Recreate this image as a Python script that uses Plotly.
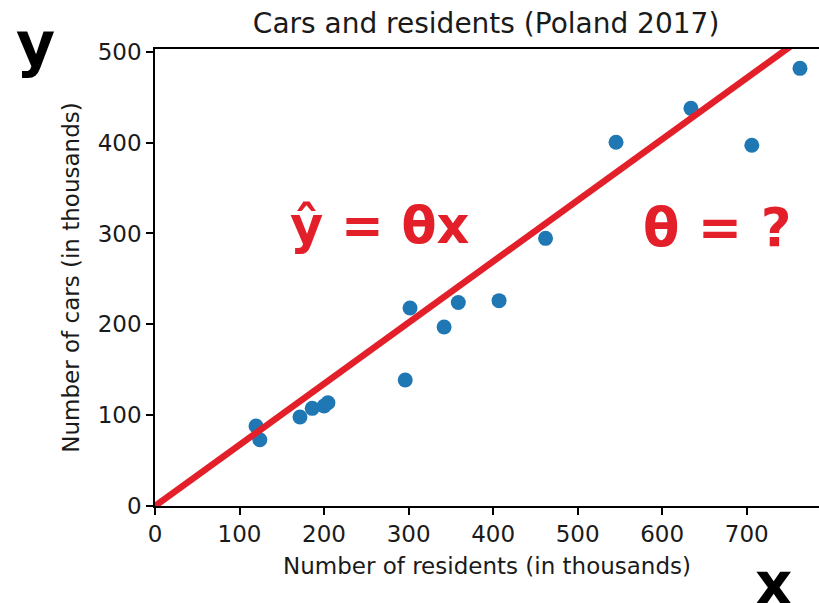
import plotly.graph_objects as go

# Residents and registered cars per city, thousands (Poland 2017)
residents = [119.5, 124, 171.5, 186, 200, 204.6, 296, 301.7, 342, 358.8, 407, 462, 545.4, 634, 706, 763]
cars = [88, 73, 98, 107.5, 110, 113.7, 138.7, 218, 197, 224, 226, 294.6, 400.3, 437.7, 397, 481.7]

theta = 0.673
line_x = [0, 800]
line_y = [theta * v for v in line_x]

x_ticks = [0, 100, 200, 300, 400, 500, 600, 700]
y_ticks = [0, 100, 200, 300, 400, 500]

RED = "#e3202a"
FONT = "DejaVu Sans"
INK = "#1a1a1a"

fig = go.Figure()
fig.add_trace(go.Scatter(x=residents, y=cars, mode="markers",
                         marker=dict(color="#1f77b4", size=15, line=dict(width=0)),
                         showlegend=False))
fig.add_trace(go.Scatter(x=line_x, y=line_y, mode="lines",
                         line=dict(color=RED, width=6.5), showlegend=False))

fig.update_layout(
    width=819, height=603,
    margin=dict(l=155, r=0, t=49, b=97),
    plot_bgcolor="white", paper_bgcolor="white",
    font=dict(family=FONT, color=INK, size=23),
    title=dict(text="Cars and residents (Poland 2017)", x=0.5935, xanchor="center",
               y=0.962, yanchor="middle", font=dict(size=28, color=INK)),
    xaxis=dict(range=[0, 785.5], tickvals=x_ticks, showgrid=False, zeroline=False,
               showline=True, linecolor="black", linewidth=1.5, mirror=True,
               ticks="outside", ticklen=7, tickwidth=1.5, tickcolor="black",
               tickfont=dict(size=23), title=dict(text="Number of residents (in thousands)",
                                                  font=dict(size=23), standoff=12)),
    yaxis=dict(range=[0, 503], tickvals=y_ticks, showgrid=False, zeroline=False,
               showline=True, linecolor="black", linewidth=1.5,
               ticks="outside", ticklen=7, tickwidth=1.5, tickcolor="black",
               tickfont=dict(size=23), title=dict(text="Number of cars (in thousands)",
                                                  font=dict(size=23), standoff=12)),
)

# Model equation and the unknown parameter
fig.add_annotation(x=266, y=309, xref="x", yref="y", text="<b>ŷ = θx</b>",
                   showarrow=False, font=dict(family=FONT, size=51, color=RED))
fig.add_annotation(x=665, y=307, xref="x", yref="y", text="<b>θ = ?</b>",
                   showarrow=False, font=dict(family=FONT, size=53, color=RED))

# Large axis letters outside the plot area
fig.add_annotation(x=(35 - 155) / 664, y=1 + (49 - 44) / 457, xref="paper", yref="paper",
                   xanchor="center", yanchor="middle", text="<b>y</b>", showarrow=False,
                   font=dict(family=FONT, size=60, color="black"))
fig.add_annotation(x=(773 - 155) / 664, y=-(584 - 506) / 457, xref="paper", yref="paper",
                   xanchor="center", yanchor="middle", text="<b>x</b>", showarrow=False,
                   font=dict(family=FONT, size=58, color="black"))

fig.write_html("out.html")
